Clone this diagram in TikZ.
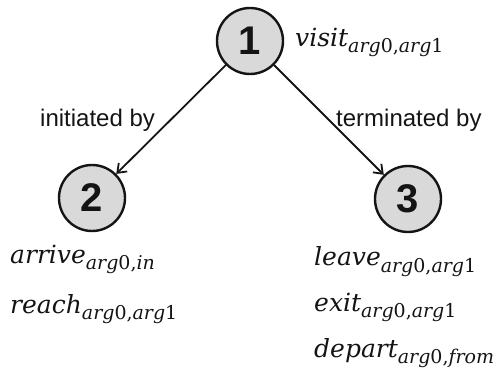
\documentclass[tikz,border=0pt]{standalone}
\usepackage{fontspec}
\usetikzlibrary{arrows.meta}
\setmainfont{DejaVu Serif}
\newfontfamily\numfont{Liberation Sans}
\newfontfamily\edgefont{Liberation Sans}
\newfontfamily\labfont{DejaVu Serif}
% predicate label: italic word with a lowered, smaller argument list
\newcommand\predlabel[2]{{\fontsize{25}{29}\selectfont\labfont\itshape #1}\raisebox{-6pt}{\fontsize{19}{23}\selectfont\labfont #2}}
\newcommand\ar{\textit{arg}}
\definecolor{ink}{HTML}{141414}
\definecolor{nodegray}{HTML}{D9D9D9}
\begin{document}
\begin{tikzpicture}[x=1pt,y=-1pt,
  state/.style={circle, draw=ink, line width=2.4pt, fill=nodegray,
    minimum size=66pt, inner sep=0pt,
    font=\numfont\bfseries\fontsize{40}{44}\selectfont, text=ink},
  rel/.style={font=\edgefont\fontsize{24}{28}\selectfont, text=ink, anchor=base west, inner sep=0pt},
  pred/.style={text=ink, anchor=base west, inner sep=0pt},
  link/.style={draw=ink, line width=1.8pt, -{Straight Barb[length=8pt,width=12pt,line width=1.8pt]}}]
  \useasboundingbox (0,0) rectangle (501,374);

  % event nodes
  \node[state] (n1) at (250,41) {1};
  \node[state] (n2) at (92,198) {2};
  \node[state] (n3) at (408,199) {3};

  % relations
  \draw[link] (n1) -- (n2);
  \draw[link] (n1) -- (n3);
  \node[rel] (rinit) at (40,127) {initiated by};
  \node[rel] (rterm) at (336,127) {terminated by};

  % predicates attached to each event
  \node[pred] (pvisit) at (295,47) {\predlabel{visit}{\ar0,\ar1}};
  \node[pred] (parrive) at (10,264) {\predlabel{arrive}{\ar0,\textit{in}}};
  \node[pred] (preach) at (10,313) {\predlabel{reach}{\ar0,\ar1}};
  \node[pred] (pleave) at (314,266) {\predlabel{leave}{\ar0,\ar1}};
  \node[pred] (pexit) at (314,312) {\predlabel{exit}{\ar0,\ar1}};
  \node[pred] (pdepart) at (314,357) {\predlabel{depart}{\ar0,\textit{from}}};
\end{tikzpicture}
\end{document}
